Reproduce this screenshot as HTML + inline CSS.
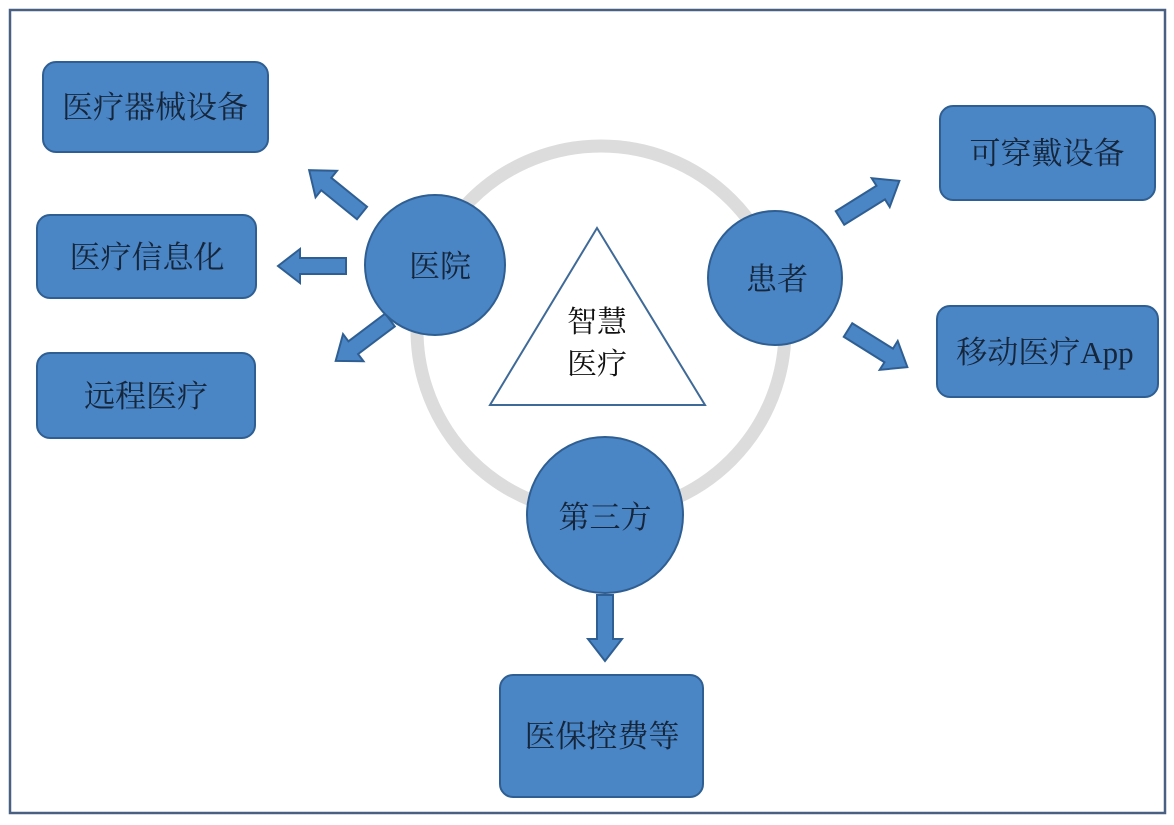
<!DOCTYPE html>
<html><head><meta charset="utf-8"><style>
html,body{margin:0;padding:0;background:#fff;}
svg text{font-family:"Liberation Serif","Noto Serif CJK SC",serif;}
</style></head><body>
<svg width="1174" height="820" viewBox="0 0 1174 820" xmlns="http://www.w3.org/2000/svg">
<rect x="10" y="10" width="1155" height="803" fill="#fff" stroke="#4a6082" stroke-width="2.5"/>
<circle cx="601" cy="330" r="184" fill="none" stroke="#dcdcdc" stroke-width="13"/>
<polygon points="597,228 490,405 705,405" fill="#fff" stroke="#3f6a98" stroke-width="2"/>
<text x="597" y="332" font-size="30" text-anchor="middle" fill="#111">智慧</text>
<text x="597" y="374" font-size="30" text-anchor="middle" fill="#111">医疗</text>
<g fill="#4a86c6" stroke="#2f5f92" stroke-width="2">
<g transform="translate(362,213) rotate(219)"><polygon points="0,-8 46,-8 46,-17 68,0 46,17 46,8 0,8"/></g>
<g transform="translate(346,266) rotate(180)"><polygon points="0,-8 46,-8 46,-17 68,0 46,17 46,8 0,8"/></g>
<g transform="translate(390,320) rotate(143)"><polygon points="0,-8 46,-8 46,-17 68,0 46,17 46,8 0,8"/></g>
<g transform="translate(840,218) rotate(-32)"><polygon points="0,-8 48,-8 48,-17 70,0 48,17 48,8 0,8"/></g>
<g transform="translate(848,330) rotate(32)"><polygon points="0,-8 48,-8 48,-17 70,0 48,17 48,8 0,8"/></g>
<g transform="translate(605,595) rotate(90)"><polygon points="0,-8 44,-8 44,-17 66,0 44,17 44,8 0,8"/></g>
<circle cx="435" cy="265" r="70"/>
<circle cx="775" cy="278" r="67"/>
<circle cx="605" cy="515" r="78"/>
<rect x="43" y="62" width="225" height="90" rx="13"/>
<rect x="37" y="215" width="219" height="83" rx="13"/>
<rect x="37" y="353" width="218" height="85" rx="13"/>
<rect x="940" y="106" width="215" height="94" rx="13"/>
<rect x="937" y="306" width="221" height="91" rx="13"/>
<rect x="500" y="675" width="203" height="122" rx="13"/>
</g>
<g font-size="31" fill="#15253a" text-anchor="middle">
<text x="440" y="277">医院</text>
<text x="777" y="290">患者</text>
<text x="605" y="528">第三方</text>
<text x="155" y="118">医疗器械设备</text>
<text x="147" y="268">医疗信息化</text>
<text x="146" y="407">远程医疗</text>
<text x="1047" y="164">可穿戴设备</text>
<text x="1045" y="363">移动医疗App</text>
<text x="602" y="747">医保控费等</text>
</g>
</svg>
</body></html>
